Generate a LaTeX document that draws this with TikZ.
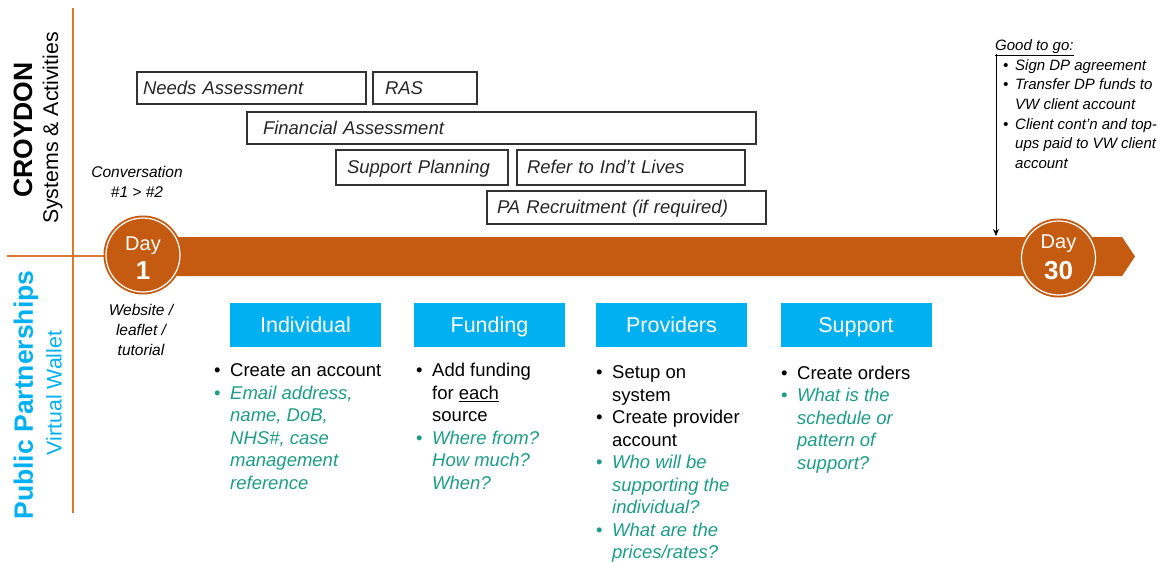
\documentclass[tikz,border=0pt]{standalone}
\usepackage{fontspec}
\setmainfont{Liberation Sans}
\usetikzlibrary{arrows.meta}
\definecolor{orng}{HTML}{C55A11}
\definecolor{lineor}{HTML}{D9782F}
\definecolor{hblue}{HTML}{00B0F0}
\definecolor{tealc}{HTML}{1E9C87}
\definecolor{boxtxt}{HTML}{262626}
\newcommand\Bbul[1]{\makebox[16pt][l]{•}#1}
\newcommand\Bcon[1]{\hspace*{16pt}#1}
\newcommand\Tbul[1]{\makebox[16pt][l]{\textcolor{tealc}{•}}\textcolor{tealc}{\itshape #1}}
\newcommand\Tcon[1]{\hspace*{16pt}\textcolor{tealc}{\itshape #1}}
\newcommand\Gbul[1]{\hspace*{8pt}\makebox[12pt][l]{•}#1}
\newcommand\Gcon[1]{\hspace*{20pt}#1}
\begin{document}
\begin{tikzpicture}[x=1pt,y=-1pt,
  tbox/.style={draw=black!80, line width=1.1pt, inner ysep=0pt, align=left,
    text height=13.5pt, text depth=1pt,
    font=\fontsize{18.5}{21}\selectfont\itshape, text=boxtxt},
  head/.style={fill=hblue, text=white, minimum width=151pt, minimum height=44pt,
    inner sep=0pt, text height=15.5pt, text depth=0pt, font=\fontsize{21.5}{24}\selectfont},
  lst/.style={align=left, inner sep=0pt, anchor=north west,
    font=\fontsize{18.5}{22.5}\selectfont},
  side/.style={rotate=90, inner sep=0pt, anchor=center},
  dayc/.style={circle, fill=orng, minimum size=79pt, inner sep=0pt},
  ring/.style={draw=white, line width=1.2pt},
  note/.style={align=center, inner sep=0pt, anchor=north,
    font=\fontsize{15.5}{20}\selectfont\itshape},
  divl/.style={draw=lineor, line width=1.3pt}]
\useasboundingbox (0,0) rectangle (1175,564);

% dividers
\coordinate (vtop) at (73,8);
\coordinate (vbot) at (73,513);
\coordinate (hl) at (7,256);
\coordinate (hr) at (105,256);
\draw[divl] (vtop) -- (vbot);
\draw[divl] (hl) -- (hr);

% side labels
\node[side, font=\fontsize{26.5}{28}\selectfont\bfseries] (croy) at (23,130) {CROYDON};
\node[side, font=\fontsize{21.3}{24}\selectfont] (sysact) at (52.5,128) {Systems \& Activities};
\node[side, font=\fontsize{26.5}{28}\selectfont\bfseries, text=hblue] (pubp) at (26,395) {Public Partnerships};
\node[side, font=\fontsize{21.3}{24}\selectfont, text=hblue] (vw) at (54,393) {Virtual Wallet};

% activity boxes
\node[tbox, minimum height=32pt, text width=217pt, inner xsep=6pt] (na) at (251.5,88) {Needs Assessment};
\node[tbox, minimum height=32pt, text width=80pt, inner xsep=12pt] (ras) at (425,88) {RAS};
\node[tbox, minimum height=32pt, text width=477pt, inner xsep=16pt] (fa) at (501.5,128) {Financial Assessment};
\node[tbox, minimum height=35pt, text width=150pt, inner xsep=11pt] (sp) at (422,167.5) {Support Planning};
\node[tbox, minimum height=35pt, text width=208pt, inner xsep=10pt] (ril) at (631,167.5) {Refer to Ind’t Lives};
\node[tbox, minimum height=33pt, text width=259pt, inner xsep=10pt] (pa) at (626.5,207.5) {PA Recruitment (if required)};

% timeline bar
\fill[orng] (143,237) -- (1122,237) -- (1135,256.5) -- (1122,276) -- (143,276) -- cycle;

% day circles
\node[dayc] (d1) at (143,255) {};
\draw[ring] (d1.center) circle[radius=37];
\node[text=white, font=\fontsize{20}{22}\selectfont, anchor=base, inner sep=0pt] (d1a) at (143,250) {Day};
\node[text=white, font=\fontsize{26}{28}\selectfont\bfseries, anchor=base, inner sep=0pt] (d1b) at (143,279) {1};

\node[dayc] (d30) at (1058.5,258) {};
\draw[ring] (d30.center) circle[radius=37];
\node[text=white, font=\fontsize{20}{22}\selectfont, anchor=base, inner sep=0pt] (d30a) at (1058.5,248) {Day};
\node[text=white, font=\fontsize{26}{28}\selectfont\bfseries, anchor=base, inner sep=0pt] (d30b) at (1058.5,279) {30};

% notes near day 1
\node[note] (conv) at (137,163.5) {\strut Conversation\\\#1 > \#2};
\node[note] (web) at (141,301.5) {\strut Website /\\leaflet /\\tutorial};

% good to go
\node[align=left, inner sep=0pt, anchor=north west,
  font=\fontsize{15}{19.7}\selectfont\itshape] (gtg) at (995,36.5)
  {\strut\underline{Good to go:}\\
   \Gbul{Sign DP agreement}\\
   \Gbul{Transfer DP funds to}\\
   \Gcon{VW client account}\\
   \Gbul{Client cont’n and top-}\\
   \Gcon{ups paid to VW client}\\
   \Gcon{account}};
\coordinate (gtop) at (996,54);
\coordinate (gbot) at (996,236);
\draw[line width=0.9pt, -{Stealth[length=7pt, width=6pt]}] (gtop) -- (gbot);

% headers
\node[head] (hind) at (305.5,325) {Individual};
\node[head] (hfun) at (489.5,325) {Funding};
\node[head] (hpro) at (671.5,325) {Providers};
\node[head] (hsup) at (856,325) {Support};

% lists
\node[lst] (lind) at (214,361) {\strut\Bbul{Create an account}\\
  \Tbul{Email address,}\\
  \Tcon{name, DoB,}\\
  \Tcon{NHS\#, case}\\
  \Tcon{management}\\
  \Tcon{reference}};
\node[lst] (lfun) at (416,361) {\strut\Bbul{Add funding}\\
  \Bcon{for \underline{each}}\\
  \Bcon{source}\\
  \Tbul{Where from?}\\
  \Tcon{How much?}\\
  \Tcon{When?}};
\node[lst] (lpro) at (596,363) {\strut\Bbul{Setup on}\\
  \Bcon{system}\\
  \Bbul{Create provider}\\
  \Bcon{account}\\
  \Tbul{Who will be}\\
  \Tcon{supporting the}\\
  \Tcon{individual?}\\
  \Tbul{What are the}\\
  \Tcon{prices/rates?}};
\node[lst] (lsup) at (781,363.5) {\strut\Bbul{Create orders}\\
  \Tbul{What is the}\\
  \Tcon{schedule or}\\
  \Tcon{pattern of}\\
  \Tcon{support?}};
\end{tikzpicture}
\end{document}
